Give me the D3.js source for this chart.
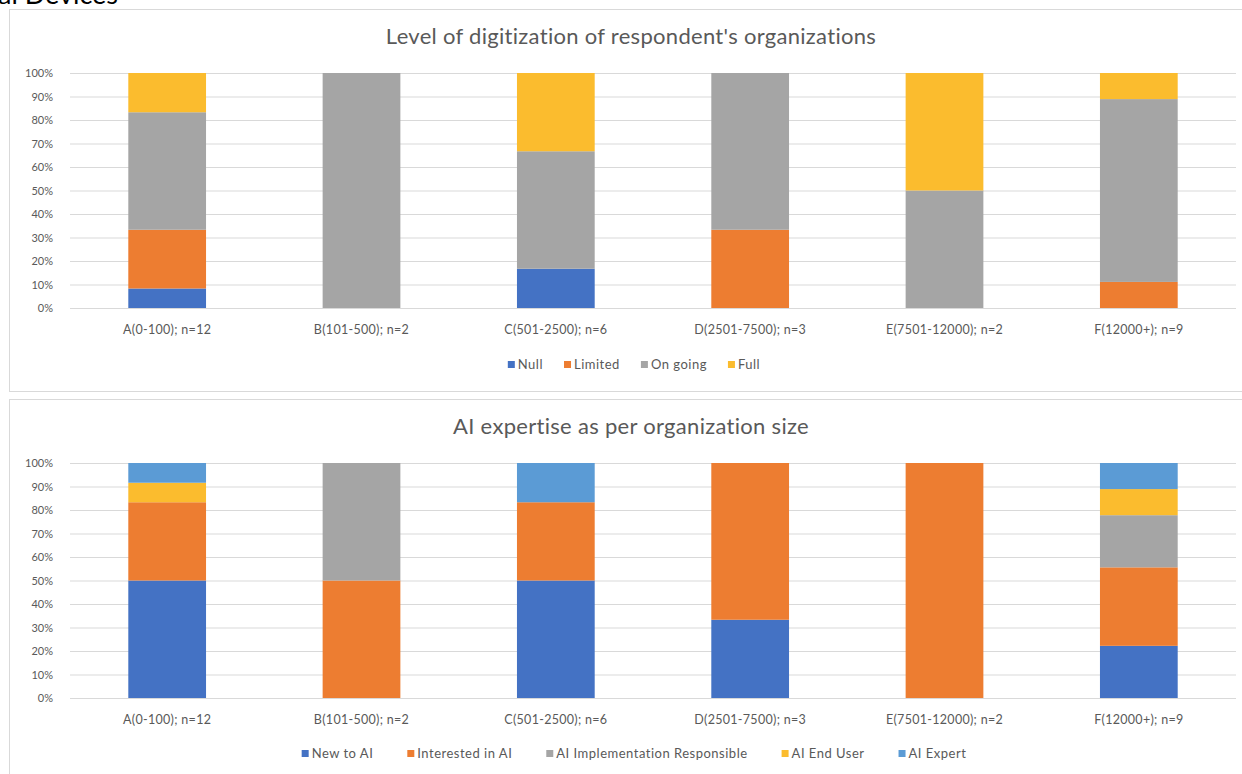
<!DOCTYPE html>
<html>
<head>
<meta charset="utf-8">
<script src="https://cdn.jsdelivr.net/npm/d3@7"></script>
<style>
  body { margin: 0; background: #fff; }
  svg { display: block; font-family: Lato, "Open Sans", sans-serif; }
</style>
</head>
<body>
<div id="chart"></div>
<script>
const width = 1242;
const height = 774;

// categories shared by both charts
const categories = ["A(0-100); n=12", "B(101-500); n=2", "C(501-2500); n=6",
  "D(2501-7500); n=3", "E(7501-12000); n=2", "F(12000+); n=9"];
const yTicks = [0, 10, 20, 30, 40, 50, 60, 70, 80, 90, 100];

// chart 1 - digitization level (%)
const digiSeries = ["Null", "Limited", "On going", "Full"];
const digiNull    = [8.3, 0, 16.7, 0, 0, 0];
const digiLimited = [25, 0, 0, 33.3, 0, 11.1];
const digiOngoing = [50, 100, 50, 66.7, 50, 77.8];
const digiFull    = [16.7, 0, 33.3, 0, 50, 11.1];
const digiColors  = ["#4472C4", "#ED7D31", "#A5A5A5", "#FBBC2E"];

// chart 2 - AI expertise (%)
const aiSeries = ["New to AI", "Interested in AI", "AI Implementation Responsible", "AI End User", "AI Expert"];
const aiNew        = [50, 0, 50, 33.3, 0, 22.2];
const aiInterested = [33.3, 50, 33.3, 66.7, 100, 33.4];
const aiImpl       = [0, 50, 0, 0, 0, 22.2];
const aiEndUser    = [8.3, 0, 0, 0, 0, 11.1];
const aiExpert     = [8.4, 0, 16.7, 0, 0, 11.1];
const aiColors     = ["#4472C4", "#ED7D31", "#A5A5A5", "#FBBC2E", "#5B9BD5"];

const svg = d3.select("#chart").append("svg")
  .attr("width", width).attr("height", height);

// cut-off heading above the charts
svg.append("text")
  .attr("x", -2).attr("y", 4)
  .attr("font-size", 27)
  .attr("fill", "#000")
  .text("al Devices");

function drawChart(cfg) {
  const g = svg.append("g").attr("transform", "translate(0," + cfg.top + ")");

  // panel border (runs off right edge)
  g.append("rect")
    .attr("x", 9.5).attr("y", 0.5)
    .attr("width", 1300).attr("height", cfg.panelH)
    .attr("fill", "#fff")
    .attr("stroke", "#d9d9d9");

  g.append("text")
    .attr("x", 631).attr("y", 35)
    .attr("text-anchor", "middle")
    .attr("font-size", 22)
    .attr("letter-spacing", 0.3)
    .attr("fill", "#595959")
    .text(cfg.title);

  const x = d3.scaleBand().domain(categories).range([70, 1236]).paddingInner(0.6).paddingOuter(0.3);
  const y = d3.scaleLinear().domain([0, 100]).range([299, 64]);

  // gridlines
  g.append("g").selectAll("line").data(yTicks).join("line")
    .attr("x1", 70).attr("x2", 1236)
    .attr("y1", d => y(d) + 0.5).attr("y2", d => y(d) + 0.5)
    .attr("stroke", "#d9d9d9");

  const yAxis = g.append("g")
    .attr("transform", "translate(56,0)")
    .call(d3.axisLeft(y).tickValues(yTicks).tickFormat(d => d + "%").tickSize(0));
  yAxis.select(".domain").remove();
  yAxis.selectAll("text").attr("font-size", 11).attr("fill", "#595959")
    .attr("font-family", "Lato, sans-serif");

  const xAxis = g.append("g")
    .attr("transform", "translate(0," + 299 + ")")
    .call(d3.axisBottom(x).tickSize(0).tickPadding(17));
  xAxis.select(".domain").remove();
  xAxis.selectAll("text").attr("font-size", 12.5).attr("fill", "#595959")
    .attr("letter-spacing", 0.3)
    .attr("font-family", "Lato, sans-serif");

  const rows = categories.map((c, i) => {
    const r = { cat: c };
    cfg.series.forEach((s, j) => { r[s] = cfg.values[j][i]; });
    return r;
  });
  const stack = d3.stack().keys(cfg.series)(rows);
  const color = d3.scaleOrdinal().domain(cfg.series).range(cfg.colors);

  g.append("g").selectAll("g").data(stack).join("g")
    .attr("fill", d => color(d.key))
    .selectAll("rect").data(d => d).join("rect")
    .attr("x", d => x(d.data.cat))
    .attr("width", x.bandwidth())
    .attr("y", d => y(d[1]))
    .attr("height", d => y(d[0]) - y(d[1]));

  // legend
  const leg = g.append("g");
  const items = leg.selectAll("g").data(cfg.series).join("g");
  items.append("rect").attr("width", 7).attr("height", 7).attr("y", -8)
    .attr("fill", d => color(d));
  items.append("text").attr("x", 10).attr("y", 0)
    .attr("font-size", 13).attr("letter-spacing", 0.5).attr("fill", "#595959")
    .text(d => d);
  let cx = 0;
  items.each(function() {
    d3.select(this).attr("transform", "translate(" + cx + ",0)");
    cx += this.getBBox().width + cfg.legendGap;
  });
  cx -= cfg.legendGap;
  leg.attr("transform", "translate(" + (cfg.legendCx - cx / 2) + "," + cfg.legendY + ")");
}

drawChart({
  top: 9, panelH: 382,
  title: "Level of digitization of respondent's organizations",
  series: digiSeries,
  values: [digiNull, digiLimited, digiOngoing, digiFull],
  colors: digiColors,
  legendCx: 634, legendY: 360, legendGap: 21
});

drawChart({
  top: 399, panelH: 400,
  title: "AI expertise as per organization size",
  series: aiSeries,
  values: [aiNew, aiInterested, aiImpl, aiEndUser, aiExpert],
  colors: aiColors,
  legendCx: 634, legendY: 359, legendGap: 34
});
</script>
</body>
</html>
